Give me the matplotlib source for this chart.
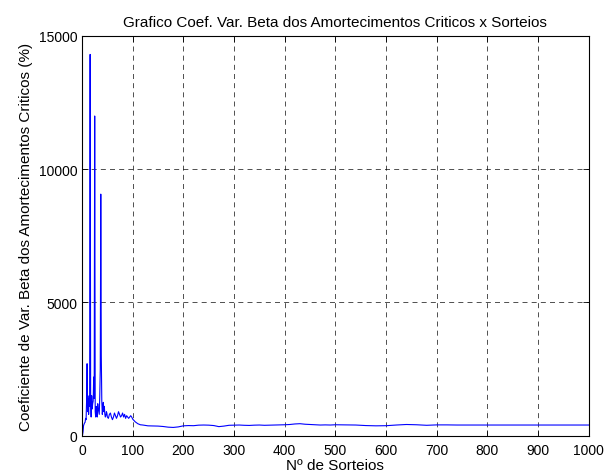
import matplotlib.pyplot as plt

# Coeficiente de variacao (%) vs numero de sorteios
n_sorteios = [1, 2, 3, 4, 5, 6, 7, 8, 9, 10, 11, 12, 13, 14, 15, 16, 17, 18, 19, 20,
              21, 22, 23, 24, 25, 26, 27, 28, 29, 30, 31, 32, 33, 34, 35, 36, 37, 38, 39, 40,
              41, 42, 43, 44, 45, 46, 47, 48, 49, 50, 52, 54, 56, 58, 60, 62, 64, 66, 68, 70,
              72, 74, 76, 78, 80, 82, 84, 86, 88, 90, 92, 94, 96, 98, 100, 105, 110, 115, 120, 130,
              140, 150, 160, 170, 180, 190, 200, 210, 220, 230, 240, 250, 260, 270, 280, 290, 300, 310, 320, 330,
              340, 350, 360, 370, 380, 390, 400, 410, 420, 430, 440, 450, 460, 470, 480, 490, 500, 520, 540, 560,
              580, 600, 620, 640, 660, 680, 700, 720, 740, 760, 800, 900, 1000]
coef_var = [30, 150, 380, 430, 480, 500, 650, 600, 1300, 2700, 900, 1400, 800, 1500, 1100, 14300, 1200, 700, 1500, 1000,
            1200, 1300, 2200, 1400, 11990, 900, 700, 1100, 800, 700, 1200, 1000, 900, 800, 1500, 2500, 9060, 3000, 1300, 800,
            1000, 1250, 900, 1100, 800, 700, 750, 900, 850, 700, 650, 800, 850, 700, 600, 700, 850, 750, 650, 750,
            900, 800, 700, 750, 850, 700, 800, 650, 750, 700, 650, 700, 750, 700, 620, 520, 450, 410, 400, 370,
            365, 360, 345, 320, 310, 330, 370, 380, 375, 395, 400, 395, 380, 340, 360, 390, 395, 400, 390, 385,
            395, 400, 390, 395, 400, 405, 410, 420, 440, 450, 430, 420, 410, 400, 405, 400, 410, 405, 400, 380,
            370, 375, 400, 420, 410, 390, 405, 405, 400, 400, 400, 400, 400]

plt.rcParams['font.family'] = ['Liberation Sans', 'DejaVu Sans']
fig = plt.figure(figsize=(6.14, 4.77), dpi=100)
ax = fig.add_axes([0.1336, 0.0845, 0.8254, 0.8385])

ax.plot(n_sorteios, coef_var, color=(0, 0, 1), linewidth=0.8)

ax.set_xlim(0, 1000)
ax.set_ylim(0, 15000)
ax.set_xticks(range(0, 1001, 100))
ax.set_yticks(range(0, 15001, 5000))
ax.grid(True, color='black', linestyle=(0, (6, 5)), linewidth=0.6, alpha=0.8)
ax.tick_params(direction='in', top=True, right=True, labelsize=10, length=4, width=0.6)
ax.tick_params(axis='x', pad=5)
for s in ax.spines.values():
    s.set_linewidth(0.8)

ax.set_title('Grafico Coef. Var. Beta dos Amortecimentos Criticos x Sorteios', fontsize=11, pad=7)
ax.set_xlabel('Nº de Sorteios', fontsize=11, labelpad=1)
ax.set_ylabel('Coeficiente de Var. Beta dos Amortecimentos Criticos (%)', fontsize=11, labelpad=4)

fig.savefig('out.png', dpi=100)
